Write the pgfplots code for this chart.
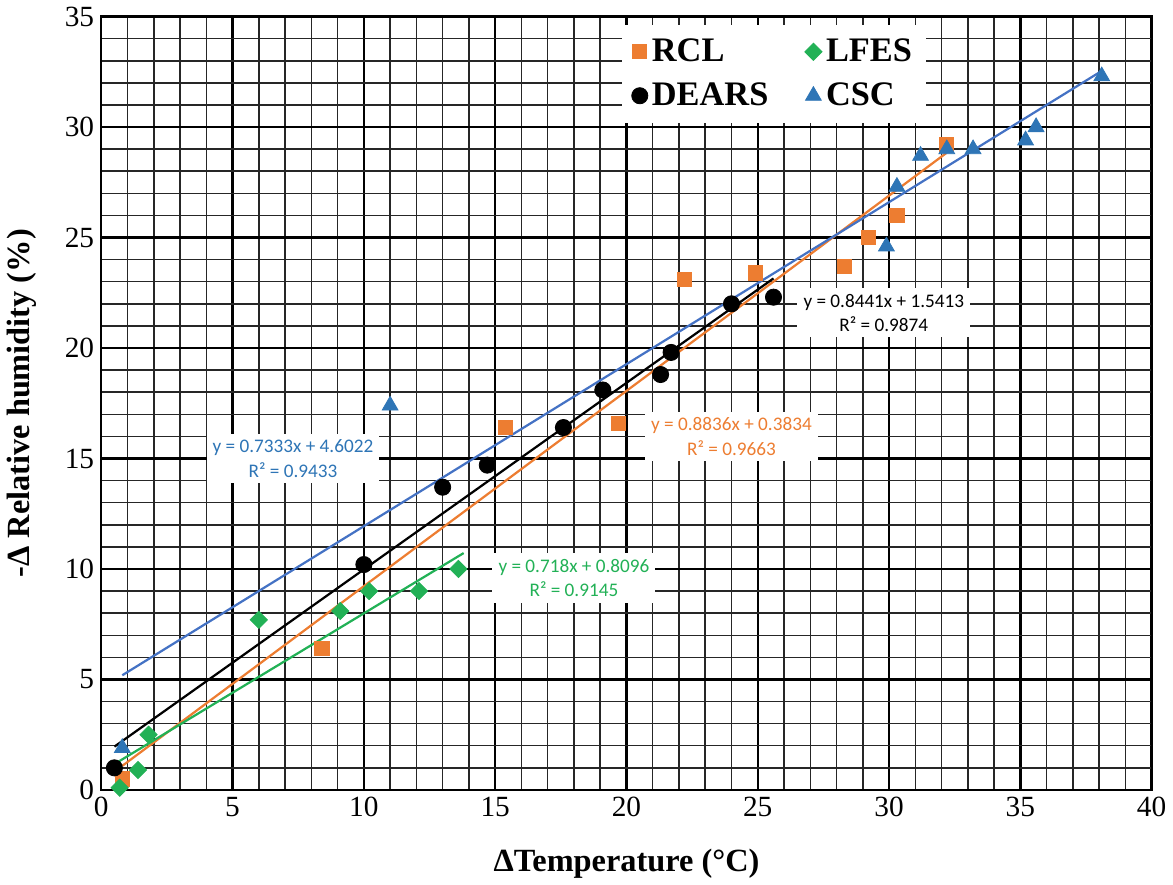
\documentclass[border=0pt]{standalone}
\usepackage{fontspec}
\setmainfont{Liberation Serif}
\newfontfamily\eqfont{Carlito}
\usepackage{pgfplots}
\pgfplotsset{compat=1.18}

\definecolor{rcl}{RGB}{237,125,49}
\definecolor{lfes}{RGB}{34,177,86}
\definecolor{csc}{RGB}{46,117,182}
\definecolor{cscline}{RGB}{68,114,196}

\begin{document}
\begin{tikzpicture}
\begin{axis}[
    scale only axis,
    width=519.5pt, height=382.5pt,
    xmin=0, xmax=40, ymin=0, ymax=35,
    xtick={0,5,...,40}, ytick={0,5,...,35},
    minor tick num=4,
    grid=both,
    major grid style={black, line width=1.2pt},
    minor grid style={black!85, line width=0.75pt},
    major tick length=0pt, minor tick length=0pt,
    axis line style={black, line width=1.1pt},
    tick label style={font=\fontsize{14.5}{16}\selectfont},
    /pgf/number format/assume math mode=true,
    xlabel={\textbf{ΔTemperature (°C)}},
    ylabel={\textbf{-Δ Relative humidity (\%)}},
    label style={font=\fontsize{16}{18}\selectfont},
    xlabel style={at={(axis description cs:0.5,-0.095)}, anchor=center},
    ylabel style={at={(axis description cs:-0.076,0.5)}, anchor=center, rotate=0},
    legend columns=2,
    legend style={at={(axis description cs:0.495,0.99)}, anchor=north west,
        fill=white, draw=none, font=\fontsize{17}{19}\selectfont\bfseries,
        /tikz/every even column/.append style={column sep=16pt},
        row sep=5pt, inner sep=5pt},
    legend cell align=left,
]
% RCL
\addplot[only marks, mark=square*, mark size=3.5pt, color=rcl] coordinates {
    (0.8,0.5) (8.4,6.4) (15.4,16.4) (19.7,16.6) (22.2,23.1) (24.9,23.4)
    (28.3,23.7) (29.2,25.0) (30.3,26.0) (32.2,29.2)
};
\addlegendentry{RCL}
% LFES
\addplot[only marks, mark=square*, mark options={rotate=45}, mark size=3pt, color=lfes] coordinates {
    (0.7,0.1) (1.4,0.9) (1.8,2.5) (6.0,7.7) (9.1,8.1) (10.2,9.0) (12.1,9.0) (13.6,10.0)
};
\addlegendentry{LFES}
% DEARS
\addplot[only marks, mark=*, mark size=4pt, color=black] coordinates {
    (0.5,1.0) (10.0,10.2) (13.0,13.7) (14.7,14.7) (17.6,16.4) (19.1,18.1)
    (21.3,18.8) (21.7,19.8) (24.0,22.0) (25.6,22.3)
};
\addlegendentry{DEARS}
% CSC
\addplot[only marks, mark=triangle*, mark size=4.5pt, color=csc] coordinates {
    (0.8,1.9) (11.0,17.4) (29.9,24.6) (30.3,27.3) (31.2,28.7) (32.2,29.0)
    (33.2,29.0) (35.2,29.4) (35.6,30.0) (38.1,32.3)
};
\addlegendentry{CSC}

% trend lines (end points of the fitted lines)
\addplot[forget plot, rcl, line width=1.1pt] coordinates {(0.8,1.09) (32.2,28.84)};
\addplot[forget plot, lfes, line width=1.1pt] coordinates {(0.6,1.24) (13.8,10.72)};
\addplot[forget plot, black, line width=1.1pt] coordinates {(0.5,1.96) (25.6,23.15)};
\addplot[forget plot, cscline, line width=1.1pt] coordinates {(0.8,5.19) (38.1,32.54)};

% equation labels
\node[fill=white, align=center, text=csc, font=\eqfont\fontsize{9.5}{12}\selectfont, inner sep=3pt]
    at (axis cs:7.3,15.0) {y = 0.7333x + 4.6022\\R² = 0.9433};
\node[fill=white, align=center, text=rcl, font=\eqfont\fontsize{9.5}{12}\selectfont, inner sep=3pt]
    at (axis cs:24.0,16.0) {y = 0.8836x + 0.3834\\R² = 0.9663};
\node[fill=white, align=center, text=black, font=\eqfont\fontsize{9.5}{12}\selectfont, inner sep=3pt]
    at (axis cs:29.8,21.6) {y = 0.8441x + 1.5413\\R² = 0.9874};
\node[fill=white, align=center, text=lfes, font=\eqfont\fontsize{9.5}{12}\selectfont, inner sep=3pt]
    at (axis cs:18.0,9.6) {y = 0.718x + 0.8096\\R² = 0.9145};
\end{axis}
\end{tikzpicture}
\end{document}
